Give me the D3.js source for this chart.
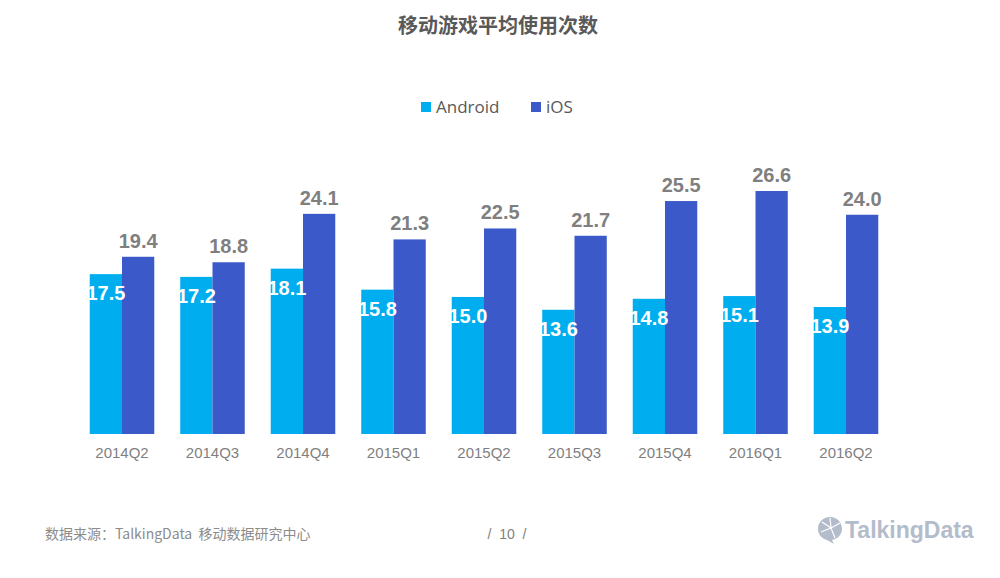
<!DOCTYPE html>
<html>
<head>
<meta charset="utf-8">
<script src="https://d3js.org/d3.v7.min.js"></script>
<style>
  html, body { margin: 0; padding: 0; background: #fff; }
  svg { display: block; }
  text { font-family: "Liberation Sans", "Noto Sans CJK SC", sans-serif; }
  .cjk { font-family: "Noto Sans CJK SC", sans-serif; }
  .value { font-family: "Liberation Sans Narrow", "Liberation Sans", sans-serif; font-weight: 700; font-size: 20px; }
  .axis text { font-size: 15px; fill: #7f7f7f; }
  .axis path, .axis line { display: none; }
</style>
</head>
<body>
<svg width="1000" height="578"></svg>
<script>
var data = [
  {q: "2014Q2", Android: 17.5, iOS: 19.4},
  {q: "2014Q3", Android: 17.2, iOS: 18.8},
  {q: "2014Q4", Android: 18.1, iOS: 24.1},
  {q: "2015Q1", Android: 15.8, iOS: 21.3},
  {q: "2015Q2", Android: 15.0, iOS: 22.5},
  {q: "2015Q3", Android: 13.6, iOS: 21.7},
  {q: "2015Q4", Android: 14.8, iOS: 25.5},
  {q: "2016Q1", Android: 15.1, iOS: 26.6},
  {q: "2016Q2", Android: 13.9, iOS: 24.0}
];
var keys = ["Android", "iOS"];
var color = {Android: "#00aeef", iOS: "#3b59c9"};

var svg = d3.select("svg");

var x = d3.scaleBand()
    .domain(data.map(function(d) { return d.q; }))
    .range([76.75, 891.25])
    .paddingInner(0.287)
    .paddingOuter(0.1435);

var x1 = d3.scaleBand()
    .domain(keys)
    .range([0, x.bandwidth()]);

var y = d3.scaleLinear()
    .domain([0, 26.6])
    .range([434, 191]);

// title
svg.append("text")
    .attr("class", "cjk")
    .attr("x", 498)
    .attr("y", 33)
    .attr("text-anchor", "middle")
    .style("font-size", "20px")
    .style("font-weight", 700)
    .style("fill", "#595959")
    .text("移动游戏平均使用次数");

// legend
var legend = svg.selectAll(".legend")
    .data([{key: "Android", x: 421}, {key: "iOS", x: 531}])
  .enter().append("g")
    .attr("class", "legend")
    .attr("transform", function(d) { return "translate(" + d.x + ",102)"; });

legend.append("rect")
    .attr("width", 10)
    .attr("height", 10)
    .attr("fill", function(d) { return color[d.key]; });

legend.append("text")
    .attr("x", 15)
    .attr("y", 11)
    .style("font-family", "'Open Sans', sans-serif")
    .style("font-size", "17px")
    .style("fill", "#595959")
    .text(function(d) { return d.key; });

// bars
var group = svg.selectAll(".group")
    .data(data)
  .enter().append("g")
    .attr("class", "group")
    .attr("transform", function(d) { return "translate(" + x(d.q) + ",0)"; });

group.selectAll("rect")
    .data(function(d) { return keys.map(function(k) { return {key: k, value: d[k]}; }); })
  .enter().append("rect")
    .attr("x", function(d) { return x1(d.key); })
    .attr("y", function(d) { return y(d.value); })
    .attr("width", x1.bandwidth())
    .attr("height", function(d) { return y(0) - y(d.value); })
    .attr("fill", function(d) { return color[d.key]; });

// values: Android inside the bar, iOS above it
group.selectAll(".value")
    .data(function(d) { return keys.map(function(k) { return {key: k, value: d[k]}; }); })
  .enter().append("text")
    .attr("class", "value")
    .attr("x", function(d) { return x1(d.key) + x1.bandwidth() / 2; })
    .attr("y", function(d) { return d.key == "iOS" ? y(d.value) - 9 : y(d.value) + 26; })
    .attr("text-anchor", "middle")
    .attr("fill", function(d) { return d.key == "iOS" ? "#7f7f7f" : "#fff"; })
    .text(function(d) { return d.value.toFixed(1); });

svg.append("g")
    .attr("class", "axis")
    .attr("transform", "translate(0,443)")
    .call(d3.axisBottom(x).tickSize(0).tickPadding(0))
  .selectAll("text")
    .attr("dy", "1em");

// footer
svg.append("text")
    .attr("class", "cjk")
    .attr("x", 45)
    .attr("y", 539)
    .style("font-size", "14px")
    .style("fill", "#8c8c8c")
    .text("数据来源：TalkingData  移动数据研究中心")
    .attr("xml:space", "preserve");

svg.append("text")
    .attr("x", 507)
    .attr("y", 539)
    .attr("text-anchor", "middle")
    .attr("xml:space", "preserve")
    .style("font-size", "14px")
    .style("fill", "#7f7f7f")
    .text("/  10  /");

// logo
var logo = svg.append("g").attr("transform", "translate(818,517)");
logo.append("path")
    .attr("d", "M12,0 C19,0 24,5 24,12 C24,18 19,22 14,23 L16,27 L9,23 C3,21 0,17 0,12 C0,5 5,0 12,0 Z")
    .attr("fill", "#b4bccb");
logo.append("path")
    .attr("d", "M3,15 L13,11 L22,6 M13,11 L12,1 M13,11 L17,21 M13,11 L4,5")
    .attr("fill", "none")
    .attr("stroke", "#fff")
    .attr("stroke-width", 1.2);
logo.append("text")
    .attr("x", 27)
    .attr("y", 21)
    .style("font-family", "'Liberation Sans Narrow', 'Liberation Sans', sans-serif")
    .style("font-weight", 700)
    .style("font-size", "23px")
    .style("fill", "#b4bccb")
    .text("TalkingData");
</script>
</body>
</html>
